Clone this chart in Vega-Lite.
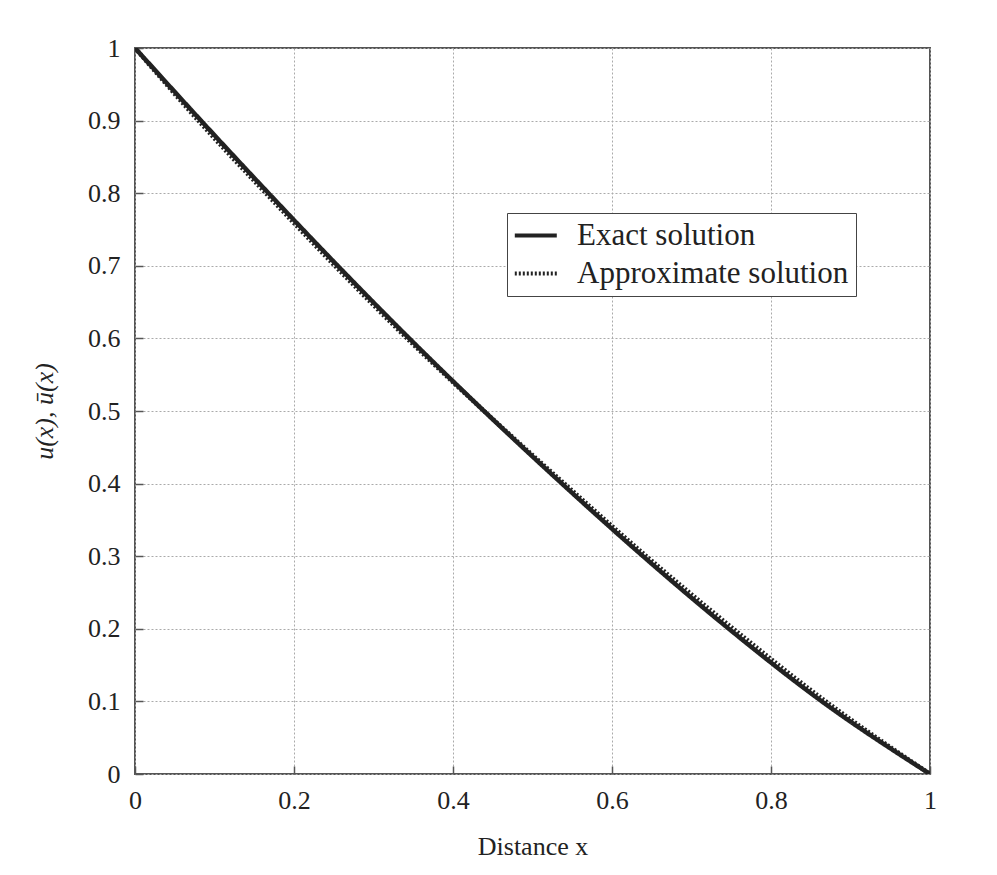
{
  "$schema": "https://vega.github.io/schema/vega-lite/v6.json",
  "width": 795,
  "height": 726,
  "autosize": {"type": "none"},
  "padding": {"left": 135, "top": 48, "right": 67, "bottom": 101},
  "background": "white",
  "config": {
    "view": {"stroke": "#555", "strokeWidth": 2},
    "axis": {
      "labelFont": "Liberation Serif",
      "labelFontSize": 26,
      "labelColor": "#222",
      "labelFlush": false,
      "titleFont": "Liberation Serif",
      "titleFontSize": 26,
      "titleColor": "#222",
      "titleFontWeight": "normal",
      "domain": false,
      "grid": true,
      "gridColor": "#aaaaaa",
      "gridDash": [2, 2],
      "gridWidth": 1,
      "tickColor": "#555",
      "tickSize": -8,
      "tickWidth": 1.5
    },
    "legend": {
      "labelFont": "Liberation Serif",
      "labelFontSize": 31,
      "labelColor": "#222",
      "labelLimit": 0
    }
  },
  "data": {
    "values": [
      {"x": 0, "u": 1, "series": "Exact solution"},
      {"x": 0.083, "u": 0.9, "series": "Exact solution"},
      {"x": 0.168, "u": 0.8, "series": "Exact solution"},
      {"x": 0.255, "u": 0.7, "series": "Exact solution"},
      {"x": 0.345, "u": 0.6, "series": "Exact solution"},
      {"x": 0.439, "u": 0.5, "series": "Exact solution"},
      {"x": 0.537, "u": 0.4, "series": "Exact solution"},
      {"x": 0.639, "u": 0.3, "series": "Exact solution"},
      {"x": 0.747, "u": 0.2, "series": "Exact solution"},
      {"x": 0.864, "u": 0.1, "series": "Exact solution"},
      {"x": 1, "u": 0, "series": "Exact solution"},
      {"x": 0, "u": 1, "series": "Approximate solution"},
      {"x": 0.083, "u": 0.896, "series": "Approximate solution"},
      {"x": 0.168, "u": 0.796, "series": "Approximate solution"},
      {"x": 0.255, "u": 0.696, "series": "Approximate solution"},
      {"x": 0.345, "u": 0.597, "series": "Approximate solution"},
      {"x": 0.439, "u": 0.5, "series": "Approximate solution"},
      {"x": 0.537, "u": 0.403, "series": "Approximate solution"},
      {"x": 0.639, "u": 0.304, "series": "Approximate solution"},
      {"x": 0.747, "u": 0.205, "series": "Approximate solution"},
      {"x": 0.864, "u": 0.104, "series": "Approximate solution"},
      {"x": 1, "u": 0, "series": "Approximate solution"}
    ]
  },
  "mark": {"type": "line", "interpolate": "monotone", "strokeWidth": 4.5, "color": "#222", "clip": true},
  "encoding": {
    "x": {
      "field": "x", "type": "quantitative",
      "scale": {"domain": [0, 1], "nice": false},
      "axis": {"values": [0, 0.2, 0.4, 0.6, 0.8, 1], "format": "~g", "title": "Distance x", "labelPadding": 21, "titlePadding": 20}
    },
    "y": {
      "field": "u", "type": "quantitative",
      "scale": {"domain": [0, 1], "nice": false},
      "axis": {"values": [0, 0.1, 0.2, 0.3, 0.4, 0.5, 0.6, 0.7, 0.8, 0.9, 1], "format": "~g", "title": "u(x), ū(x)", "titleFontStyle": "italic", "labelPadding": 23, "titlePadding": 30}
    },
    "strokeDash": {
      "field": "series", "type": "nominal",
      "scale": {"domain": ["Exact solution", "Approximate solution"], "range": [[1, 0], [2, 2]]},
      "legend": {
        "title": null,
        "orient": "none",
        "legendX": 372,
        "legendY": 165,
        "strokeColor": "#444",
        "fillColor": "white",
        "padding": 7,
        "symbolType": "M-1.4,0H2.6",
        "symbolSize": 441,
        "symbolStrokeWidth": 4,
        "symbolStrokeColor": "#222",
        "rowPadding": 6,
        "labelOffset": 32
      }
    },
    "order": {"field": "x", "type": "quantitative"}
  }
}
